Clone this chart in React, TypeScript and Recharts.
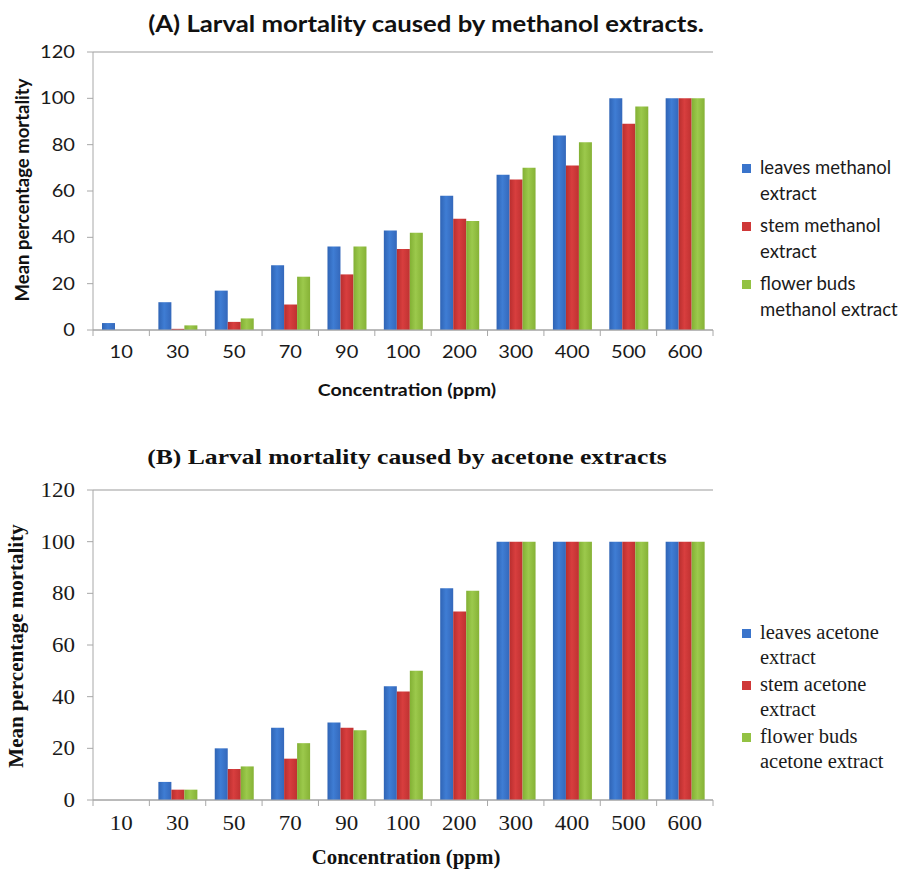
import React from "react";
import { BarChart, Bar, XAxis, YAxis, CartesianGrid, Legend } from "recharts";

const categories = ["10", "30", "50", "70", "90", "100", "200", "300", "400", "500", "600"];
const yTicks = [0, 20, 40, 60, 80, 100, 120];

const leavesMethanol = [3, 12, 17, 28, 36, 43, 58, 67, 84, 100, 100];
const stemMethanol = [0, 0.5, 3.5, 11, 24, 35, 48, 65, 71, 89, 100];
const flowerMethanol = [0, 2, 5, 23, 36, 42, 47, 70, 81, 96.5, 100];

const leavesAcetone = [0, 7, 20, 28, 30, 44, 82, 100, 100, 100, 100];
const stemAcetone = [0, 4, 12, 16, 28, 42, 73, 100, 100, 100, 100];
const flowerAcetone = [0, 4, 13, 22, 27, 50, 81, 100, 100, 100, 100];

const seriesA = [
  { key: "leaves", name: "leaves methanol extract", values: leavesMethanol, grad: "gBlue" },
  { key: "stem", name: "stem methanol extract", values: stemMethanol, grad: "gRed" },
  { key: "flower", name: "flower buds methanol extract", values: flowerMethanol, grad: "gGreen" },
];
const seriesB = [
  { key: "leaves", name: "leaves acetone extract", values: leavesAcetone, grad: "gBlue" },
  { key: "stem", name: "stem acetone extract", values: stemAcetone, grad: "gRed" },
  { key: "flower", name: "flower buds acetone extract", values: flowerAcetone, grad: "gGreen" },
];

const legendLinesA = [["leaves methanol", "extract"], ["stem methanol", "extract"], ["flower buds", "methanol extract"]];
const legendLinesB = [["leaves acetone", "extract"], ["stem acetone", "extract"], ["flower buds", "acetone extract"]];

const colors: Record<string, string> = { gBlue: "#3a74cb", gRed: "#cf3838", gGreen: "#93c243" };

const buildRows = (series: typeof seriesA) =>
  categories.map((c, i) => {
    const row: Record<string, string | number> = { cat: c };
    series.forEach((s) => (row[s.key] = s.values[i]));
    return row;
  });

const dataA = buildRows(seriesA);
const dataB = buildRows(seriesB);

const AXIS = "#a8a8a8";
const GRID = "#bdbdbd";

const Defs = () => (
  <defs>
    <linearGradient id="gBlue" x1="0" y1="0" x2="1" y2="0">
      <stop offset="0%" stopColor="#2f64b5" />
      <stop offset="45%" stopColor="#3f7dd4" />
      <stop offset="100%" stopColor="#3468bb" />
    </linearGradient>
    <linearGradient id="gRed" x1="0" y1="0" x2="1" y2="0">
      <stop offset="0%" stopColor="#b92e2e" />
      <stop offset="45%" stopColor="#d83e3e" />
      <stop offset="100%" stopColor="#bf3131" />
    </linearGradient>
    <linearGradient id="gGreen" x1="0" y1="0" x2="1" y2="0">
      <stop offset="0%" stopColor="#82b034" />
      <stop offset="45%" stopColor="#9cc94c" />
      <stop offset="100%" stopColor="#86b236" />
    </linearGradient>
  </defs>
);

const SANS = "Lato, sans-serif";
const SERIF = "'Times New Roman', 'Liberation Serif', Times, serif";

const makeXTick = (font: string, size: number, sx: number) => (props: any) => {
  const { x, y, payload, index, visibleTicksCount } = props;
  const off = payload.offset || 0;
  const axisY = y - 16;
  return (
    <g>
      <line x1={x - off} x2={x - off} y1={axisY} y2={axisY + 6} stroke={AXIS} />
      {index === visibleTicksCount - 1 && (
        <line x1={x + off} x2={x + off} y1={axisY} y2={axisY + 6} stroke={AXIS} />
      )}
      <text
        transform={`translate(${x} ${y}) scale(${sx} 1)`}
        x={0}
        y={0}
        dy="0.71em"
        textAnchor="middle"
        fill="#1a1a1a"
        fontFamily={font}
        fontSize={size}
      >
        {payload.value}
      </text>
    </g>
  );
};

const makeYTick = (font: string, size: number, sx: number) => (props: any) => {
  const { x, y, payload } = props;
  return (
    <text
      transform={`translate(${x} ${y}) scale(${sx} 1)`}
      x={0}
      y={0}
      dy="0.355em"
      textAnchor="end"
      fill="#1a1a1a"
      fontFamily={font}
      fontSize={size}
    >
      {payload.value}
    </text>
  );
};

const makeLegend = (lines: string[][], font: string, size: number, lineH: number, gap: number) => (props: any) => {
  const payload = props.payload || [];
  return (
    <div style={{ fontFamily: font, fontSize: size, color: "#1a1a1a", textAlign: "left" }}>
      {payload.map((p: any, i: number) => (
        <div key={i} style={{ display: "flex", alignItems: "flex-start", marginBottom: gap }}>
          <div
            style={{
              width: 9,
              height: 9,
              background: colors[seriesA[i].grad],
              marginTop: (lineH - 9) / 2 + 1,
              marginRight: 9,
              flex: "none",
            }}
          />
          <div style={{ lineHeight: lineH + "px", whiteSpace: "nowrap", fontFamily: font }}>
            {lines[i].map((l, j) => (
              <div key={j}>{l}</div>
            ))}
          </div>
        </div>
      ))}
    </div>
  );
};

const abs = (cx: number, cy: number, rot = false, sx = 1): React.CSSProperties => ({
  position: "absolute",
  left: cx,
  top: cy,
  transform: `translate(-50%, -50%)${rot ? " rotate(-90deg)" : ""}${sx !== 1 ? ` scaleX(${sx})` : ""}`,
  whiteSpace: "nowrap",
  color: "#111",
  fontWeight: "bold",
});

export default function App() {
  return (
    <div style={{ position: "absolute", left: 0, top: 0, width: 917, height: 872, background: "#fff", overflow: "hidden" }}>
      {/* Chart A */}
      <div style={{ position: "absolute", left: 0, top: 0 }}>
        <BarChart
          width={917}
          height={420}
          data={dataA}
          margin={{ top: 52, right: 204, left: 0, bottom: 0 }}
          barCategoryGap="16%"
          barGap={0}
        >
          <Defs />
          <CartesianGrid vertical={false} stroke={GRID} strokeWidth={1.3} />
          <XAxis
            xAxisId="a"
            dataKey="cat"
            height={90}
            stroke={AXIS}
            tickLine={false}
            tickSize={6}
            tickMargin={10}
            interval={0}
            tick={makeXTick(SANS, 17, 1.18)}
          />
          <YAxis
            yAxisId="a"
            width={93}
            domain={[0, 120]}
            ticks={yTicks}
            interval={0}
            stroke={AXIS}
            tickSize={6}
            tickMargin={12}
            tick={makeYTick(SANS, 17, 1.18)}
          />
          <Legend
            layout="vertical"
            align="center"
            verticalAlign="middle"
            wrapperStyle={{ position: "absolute", left: 742, top: 155, width: 175 }}
            content={makeLegend(legendLinesA, SANS, 18.5, 25.5, 7)}
          />
          {seriesA.map((s) => (
            <Bar
              key={s.key}
              xAxisId="a"
              yAxisId="a"
              dataKey={s.key}
              name={s.name}
              fill={`url(#${s.grad})`}
              isAnimationActive={false}
            />
          ))}
        </BarChart>
        <div style={{ ...abs(426, 23, false, 1.17), fontFamily: SANS, fontSize: 22 }}>
          (A) Larval mortality caused by methanol extracts.
        </div>
        <div style={{ ...abs(407, 389, false, 1.15), fontFamily: SANS, fontSize: 17 }}>Concentration (ppm)</div>
        <div style={{ ...abs(22, 190, true), fontFamily: SANS, fontSize: 18.5 }}>Mean percentage mortality</div>
      </div>

      {/* Chart B */}
      <div style={{ position: "absolute", left: 0, top: 420 }}>
        <BarChart
          width={917}
          height={452}
          data={dataB}
          margin={{ top: 70, right: 204, left: 0, bottom: 0 }}
          barCategoryGap="16%"
          barGap={0}
        >
          <Defs />
          <CartesianGrid vertical={false} stroke={GRID} strokeWidth={1.3} />
          <XAxis
            xAxisId="b"
            dataKey="cat"
            height={72}
            stroke={AXIS}
            tickLine={false}
            tickSize={6}
            tickMargin={10}
            interval={0}
            tick={makeXTick(SERIF, 20, 1.15)}
          />
          <YAxis
            yAxisId="b"
            width={93}
            domain={[0, 120]}
            ticks={yTicks}
            interval={0}
            stroke={AXIS}
            tickSize={6}
            tickMargin={12}
            tick={makeYTick(SERIF, 20, 1.15)}
          />
          <Legend
            layout="vertical"
            align="center"
            verticalAlign="middle"
            wrapperStyle={{ position: "absolute", left: 742, top: 200, width: 175 }}
            content={makeLegend(legendLinesB, SERIF, 20.5, 25, 2)}
          />
          {seriesB.map((s) => (
            <Bar
              key={s.key}
              xAxisId="b"
              yAxisId="b"
              dataKey={s.key}
              name={s.name}
              fill={`url(#${s.grad})`}
              isAnimationActive={false}
            />
          ))}
        </BarChart>
        <div style={{ ...abs(407, 37, false, 1.165), fontFamily: SERIF, fontSize: 22 }}>
          (B) Larval mortality caused by acetone extracts
        </div>
        <div style={{ ...abs(406, 437, false, 1.045), fontFamily: SERIF, fontSize: 20 }}>Concentration (ppm)</div>
        <div style={{ ...abs(16, 226, true), fontFamily: SERIF, fontSize: 21 }}>Mean percentage mortality</div>
      </div>
    </div>
  );
}
